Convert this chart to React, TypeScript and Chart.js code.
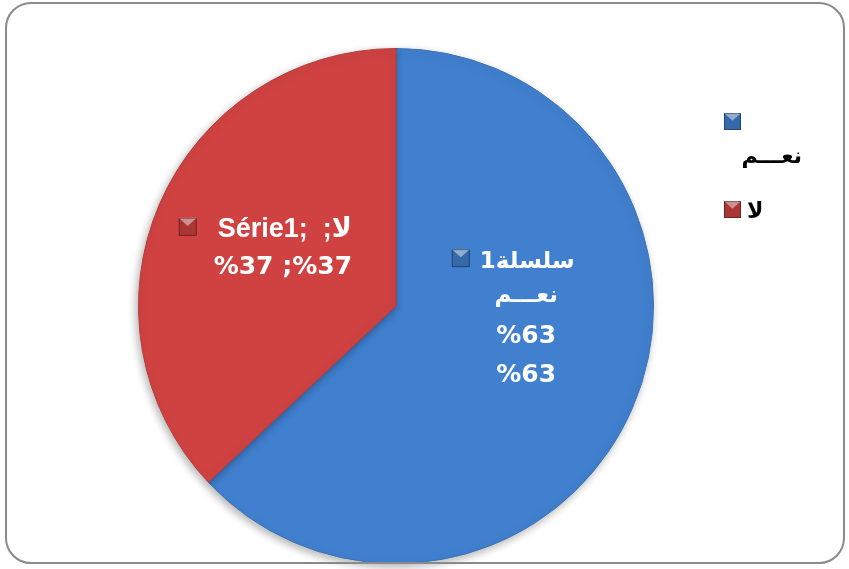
import React, { useEffect, useRef } from "react";
import { Chart, registerables } from "chart.js";

Chart.register(...registerables);

const categories = ["نعـــم", "لا"];
const values = [63, 37];
const seriesNames = ["سلسلة1", "Série1"];
const colors = ["#4180cf", "#d04242"];
const borderColors = ["#3a72b8", "#b83a3a"];

function drawSquare(ctx: CanvasRenderingContext2D, x: number, y: number, s: number, color: string) {
  ctx.save();
  ctx.fillStyle = color;
  ctx.fillRect(x, y, s, s);
  ctx.fillStyle = "rgba(0,0,0,0.18)";
  ctx.fillRect(x, y, s, s);
  ctx.fillStyle = "rgba(255,255,255,0.45)";
  ctx.beginPath();
  ctx.moveTo(x, y);
  ctx.lineTo(x + s, y);
  ctx.lineTo(x + s / 2, y + s * 0.45);
  ctx.closePath();
  ctx.fill();
  ctx.strokeStyle = "rgba(0,0,0,0.35)";
  ctx.lineWidth = 1;
  ctx.strokeRect(x + 0.5, y + 0.5, s - 1, s - 1);
  ctx.restore();
}

// draw tokens in visual left-to-right order, centred on cx
function drawTokens(ctx: CanvasRenderingContext2D, tokens: string[], cx: number, y: number) {
  const widths = tokens.map((t) => ctx.measureText(t).width);
  const total = widths.reduce((a, b) => a + b, 0);
  let x = cx - total / 2;
  ctx.textAlign = "left";
  tokens.forEach((t, i) => {
    ctx.fillText(t, x, y);
    x += widths[i];
  });
  return cx - total / 2;
}

const latinFont = "bold 27px 'Liberation Sans', Arial, 'DejaVu Sans', sans-serif";
const arabicFont = "bold 23px 'DejaVu Sans', sans-serif";
const pctFont = "bold 25px 'DejaVu Sans', sans-serif";

const labelPlugin = {
  id: "customLabels",
  beforeDatasetsDraw(chart: any) {
    const ctx = chart.ctx;
    ctx.save();
    ctx.shadowColor = "rgba(0,0,0,0.3)";
    ctx.shadowBlur = 8;
    ctx.shadowOffsetX = -2;
    ctx.shadowOffsetY = 3;
  },
  afterDatasetsDraw(chart: any) {
    const ctx = chart.ctx;
    ctx.restore();
    const meta = chart.getDatasetMeta(0);
    ctx.save();
    ctx.direction = "ltr";
    ctx.textBaseline = "alphabetic";
    // blue slice label
    const p0 = meta.data[0].tooltipPosition();
    const bx = p0.x + 12;
    const by = p0.y - 89;
    ctx.font = arabicFont;
    ctx.textAlign = "center";
    const w1 = ctx.measureText(seriesNames[0]).width;
    const t1x = bx + 1;
    drawSquare(ctx, t1x - w1 / 2 - 28, by - 19, 18, colors[0]);
    ctx.fillStyle = "#ffffff";
    ctx.textAlign = "center";
    ctx.fillText(seriesNames[0], t1x, by);
    ctx.fillText(categories[0], bx, by + 34);
    ctx.font = pctFont;
    ctx.fillText("%" + values[0], bx, by + 75);
    ctx.fillText("%" + values[0], bx, by + 114);
    // red slice label
    const p1 = meta.data[1].tooltipPosition();
    const rx = p1.x + 5;
    const ry = p1.y - 18;
    ctx.font = latinFont;
    const left = drawTokens(ctx, [seriesNames[1] + ";", "  ;", categories[1]], rx + 2, ry);
    drawSquare(ctx, left - 39, ry - 19, 18, colors[1]);
    ctx.fillStyle = "#ffffff";
    ctx.font = pctFont;
    drawTokens(ctx, ["%" + values[1], " ;", "%" + values[1]], rx, ry + 37);
    ctx.restore();
  },
  afterDraw(chart: any) {
    const ctx = chart.ctx;
    ctx.save();
    ctx.direction = "ltr";
    ctx.textBaseline = "alphabetic";
    drawSquare(ctx, 724, 113, 17, colors[0]);
    drawSquare(ctx, 724, 201, 17, colors[1]);
    ctx.fillStyle = "#000000";
    ctx.font = "bold 22px 'DejaVu Sans', sans-serif";
    ctx.textAlign = "right";
    ctx.fillText(categories[0], 802, 163);
    ctx.textAlign = "left";
    ctx.fillText(categories[1], 747, 218);
    ctx.restore();
  },
};

export default function App() {
  const ref = useRef<HTMLCanvasElement | null>(null);
  useEffect(() => {
    document.body.style.margin = "0";
    const chart = new Chart(ref.current as HTMLCanvasElement, {
      type: "pie",
      data: {
        labels: categories,
        datasets: [
          {
            data: values,
            backgroundColor: colors,
            borderColor: borderColors,
            borderWidth: 1,
          },
        ],
      },
      options: {
        animation: false,
        responsive: false,
        maintainAspectRatio: false,
        layout: { padding: { top: 48, bottom: 5, left: 138, right: 195 } },
        plugins: {
          legend: { display: false },
          tooltip: { enabled: false },
        },
      },
      plugins: [labelPlugin],
    });
    return () => chart.destroy();
  }, []);
  return (
    <div style={{ position: "fixed", left: 0, top: 0, width: 849, height: 569, background: "#fff" }}>
      <canvas ref={ref} width={849} height={569} style={{ position: "absolute", left: 0, top: 0 }} />
      <div
        style={{
          position: "absolute",
          left: 5,
          top: 2,
          width: 840,
          height: 562,
          border: "2px solid #8a8a8a",
          borderRadius: 26,
          boxSizing: "border-box",
          pointerEvents: "none",
        }}
      />
    </div>
  );
}
